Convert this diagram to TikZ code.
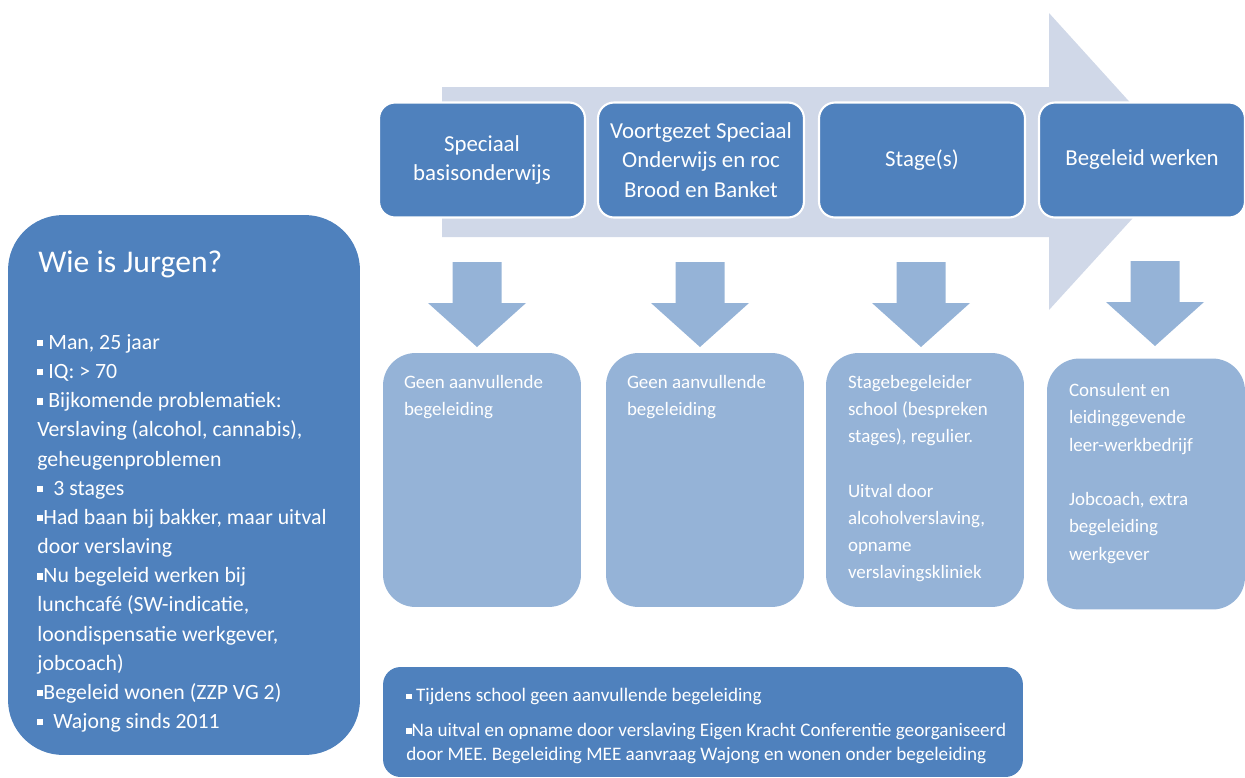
\documentclass[tikz,border=0pt]{standalone}
\usepackage{fontspec}
\setmainfont{Carlito}
\usetikzlibrary{positioning}
\definecolor{darkblue}{RGB}{79,129,189}
\definecolor{paleblue}{RGB}{149,179,215}
\definecolor{flowgrey}{RGB}{208,216,232}
\newcommand{\sqb}{\raisebox{0.3ex}{\rule{0.28em}{0.28em}}}
\begin{document}
\begin{tikzpicture}[x=0.02cm, y=0.02cm,
stage node/.style={rectangle, rounded corners=0.32cm, fill=darkblue, draw=white, line width=1.2pt, minimum width=4.12cm, minimum height=2.3cm, text=white, align=center, font=\fontsize{13}{16.7}\selectfont},
help node/.style={rectangle, rounded corners=0.65cm, fill=paleblue, minimum width=3.96cm, minimum height=5.08cm},
help text/.style={anchor=north west, inner sep=0pt, text=white, align=left, font=\fontsize{10.8}{15.5}\selectfont},
down arrow/.pic={\fill[paleblue] (-24.5,0) -- (24.5,0) -- (24.5,-41) -- (49,-41) -- (0,-85) -- (-49,-41) -- (-24.5,-41) -- cycle;}]
\useasboundingbox (0,0) rectangle (1245,-778);

% the big arrow behind the stages
\fill [flowgrey] (442,-87) -- (1049,-87) -- (1049,-13) -- (1184,-162) -- (1049,-310) -- (1049,-237) -- (442,-237) -- cycle;

\node [stage node](s1) at (482,-160) {Speciaal\\basisonderwijs};
\node [stage node](s2) at (701,-160) {Voortgezet Speciaal\\Onderwijs en roc\\Brood en Banket};
\node [stage node](s3) at (922,-160) {Stage(s)};
\node [stage node](s4) at (1142,-160) {Begeleid werken};

\pic (a1) at (477,-262) {down arrow};
\pic (a2) at (700,-262) {down arrow};
\pic (a3) at (921,-262) {down arrow};
\pic (a4) at (1155,-261) {down arrow};

\node [help node](h1) at (482,-480) {};
\node [help node](h2) at (705,-480) {};
\node [help node](h3) at (925,-480) {};
\node [help node, minimum height=5.02cm](h4) at (1146,-484) {};

\node [help text, below right=0.44cm and 0.42cm of h1.north west](t1) {Geen aanvullende\\begeleiding};
\node [help text, below right=0.44cm and 0.42cm of h2.north west](t2) {Geen aanvullende\\begeleiding};
\node [help text, below right=0.44cm and 0.44cm of h3.north west](t3) {Stagebegeleider\\school (bespreken\\stages), regulier.\\[15.5pt]Uitval door\\alcoholverslaving,\\opname\\verslavingskliniek};
\node [help text, below right=0.5cm and 0.44cm of h4.north west](t4) {Consulent en\\leidinggevende\\leer-werkbedrijf\\[15.5pt]Jobcoach, extra\\begeleiding\\werkgever};

% who is it about
\node [rectangle, rounded corners=1.1cm, fill=darkblue, minimum width=7.04cm, minimum height=10.8cm](jurgen) at (184,-485) {};
\node [anchor=base west, inner sep=0pt, text=white, font=\fontsize{18}{22}\selectfont](title) at (38,-272) {Wie is Jurgen?};
\node [anchor=north west, inner sep=0pt, text=white, align=left, font=\fontsize{12.4}{16.6}\selectfont](facts) at (37,-334) {\sqb\ Man, 25 jaar\\
\sqb\ IQ: > 70\\
\sqb\ Bijkomende problematiek:\\
Verslaving (alcohol, cannabis),\\
geheugenproblemen\\
\sqb\ \ 3 stages\\
\sqb Had baan bij bakker, maar uitval\\
door verslaving\\
\sqb Nu begeleid werken bij\\
lunchcafé (SW-indicatie,\\
loondispensatie werkgever,\\
jobcoach)\\
\sqb Begeleid wonen (ZZP VG 2)\\
\sqb\ \ Wajong sinds 2011};

\node [rectangle, rounded corners=0.35cm, fill=darkblue, minimum width=12.8cm, minimum height=2.2cm](note) at (703,-722) {};
\node [anchor=north west, inner sep=0pt, text=white, align=left, font=\fontsize{10.9}{13.6}\selectfont](notetext) at (406,-688) {\sqb\ Tijdens school geen aanvullende begeleiding\\[6.2pt]
\sqb Na uitval en opname door verslaving Eigen Kracht Conferentie georganiseerd\\
door MEE. Begeleiding MEE aanvraag Wajong en wonen onder begeleiding};
\end{tikzpicture}
\end{document}
